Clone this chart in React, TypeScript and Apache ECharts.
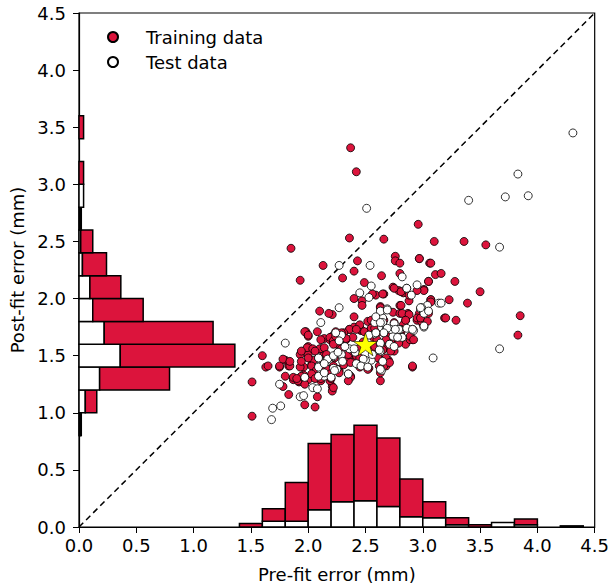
import React, { useEffect, useRef } from "react";
import * as echarts from "echarts";

const trainPoints: [number, number][] = [
  [2.37,3.32],[2.42,3.11],[2.96,2.65],[2.36,2.53],[2.66,2.52],[3.10,2.50],[3.36,2.50],[3.55,2.47],[1.85,2.44],[2.13,2.29],
  [2.43,2.33],[2.76,2.37],[2.76,2.33],[2.80,2.31],[2.97,2.35],[3.06,2.31],[2.40,2.24],[2.64,2.20],[2.80,2.22],[3.11,2.21],
  [3.16,2.22],[1.93,2.16],[2.30,2.18],[2.49,2.14],[3.05,2.15],[3.28,2.15],[2.74,2.10],[2.79,2.07],[3.01,2.08],[3.50,2.06],
  [2.83,2.05],[2.66,2.04],[2.59,2.03],[2.40,2.00],[2.47,1.98],[2.47,1.94],[2.88,1.98],[3.07,1.99],[3.23,1.99],[3.39,1.96],
  [2.10,1.89],[2.21,1.86],[2.63,1.93],[2.80,1.94],[2.74,1.88],[2.80,1.87],[2.87,1.87],[3.05,1.87],[3.19,1.83],[3.29,1.81],
  [2.40,1.84],[2.52,1.80],[2.64,1.82],[2.85,1.81],[2.95,1.81],[3.00,1.78],[3.85,1.85],[3.83,1.68],[2.91,1.40],[2.63,1.28],
  [1.60,1.50],[1.63,1.40],[1.51,1.27],[1.51,0.97],[1.83,1.16],[1.97,1.07],[2.06,1.05],[2.08,1.14],[1.75,1.40],[1.80,1.46],
  [1.83,1.41],[1.78,1.23],[1.80,1.32],[1.87,1.29],[1.96,1.40],[2.00,1.57],[1.98,1.71],[2.00,1.67],[2.08,1.71],[1.93,1.51],
  [2.00,1.51],[1.96,1.33],[2.00,1.29],[1.92,1.27],[1.97,1.25],[2.21,1.23],[2.21,1.19],[2.09,1.38],[2.03,1.42],[2.14,1.52],
  [2.11,1.56],[2.14,1.65],[2.20,1.64],[2.24,1.71],[2.33,1.64],[2.36,1.73],[2.40,1.75],[2.46,1.72],[2.54,1.72],[2.62,1.71],
  [2.72,1.72],[2.83,1.77],[2.85,1.60],[2.91,1.64],[2.71,1.65],[2.75,1.62],[2.66,1.59],[2.73,1.56],[2.62,1.48],[2.70,1.46],
  [2.68,1.41],[2.53,1.39],[2.39,1.46],[2.39,1.66],[2.26,1.53],[2.26,1.60],[2.17,1.47],[2.37,1.32],[2.27,1.37],[2.17,1.38],
  [2.19,1.28],[2.11,1.28],[2.21,1.67],[2.27,1.69],[2.36,1.73],[2.46,1.73],[2.53,1.71],[2.61,1.74],[2.66,1.70],[2.81,1.71],
  [2.89,1.64],[2.72,1.63],[2.75,1.54],[2.68,1.57],[2.61,1.48],[2.69,1.45],[2.66,1.41],[2.63,1.35],[2.45,1.40],[2.52,1.38],
  [2.35,1.48],[2.23,1.48],[2.22,1.41],[2.26,1.38],[2.37,1.31],[2.20,1.30],[2.22,1.22],[2.42,1.50],[2.97,2.35],[3.07,2.31],
  [3.05,2.15],[3.01,2.07],[3.07,1.99],[2.97,1.87],[2.95,1.83],[2.99,1.80],[1.75,1.41],[1.84,1.41],[2.18,1.87],[2.19,1.64],
  [2.22,1.63],[2.00,1.58],[1.93,1.40],[2.05,1.46],[2.31,1.70],[2.57,1.66],[2.48,1.62],[2.44,1.56],[2.56,1.55],[2.31,1.42],
  [2.45,1.77],[2.42,1.73],[2.49,1.71],[2.55,1.74],[1.97,1.71],[2.00,1.68],[2.19,1.66],[2.22,1.63],[2.24,1.67],[2.29,1.70],
  [2.33,1.65],[2.32,1.58],[2.11,1.64],[1.99,1.57],[2.04,1.56],[2.10,1.56],[2.14,1.57],[2.00,1.48],[2.09,1.48],[2.16,1.51],
  [2.29,1.56],[2.35,1.51],[2.39,1.54],[1.78,1.47],[1.84,1.45],[1.94,1.45],[2.03,1.41],[2.07,1.37],[2.11,1.40],[1.87,1.31],
  [1.91,1.28],[1.94,1.32],[2.03,1.34],[2.06,1.30],[2.11,1.30],[2.19,1.34],[2.27,1.35],[2.35,1.28],[2.45,1.48],[2.37,1.44],
  [1.65,1.41],[2.56,2.04],[2.65,2.04],[2.75,2.09],[2.81,2.06],[2.88,2.03],[2.95,2.07],[2.63,1.92],[2.81,1.94],[2.82,1.87],
  [2.88,1.86],[2.85,1.81],[3.07,1.97],[2.98,1.83],[3.04,1.80],[3.20,1.83],[2.55,1.81],[2.66,1.81],[2.75,1.79],[2.81,1.73],
  [2.89,1.67],[2.82,1.66],[2.72,1.67],[2.58,1.74],[2.60,1.64],[2.68,1.64],[2.71,1.60],[2.79,1.61],[2.72,1.54],[2.65,1.55],
  [2.58,1.58],[2.68,1.48],[2.71,1.44],[2.62,1.41],[2.91,1.41],[2.92,1.64],[1.94,1.54],[2.06,1.54],[2.22,1.60],[1.90,1.30],
];

const testPoints: [number, number][] = [
  [2.51,2.79],[3.83,3.09],[3.40,2.86],[3.72,2.89],[3.92,2.90],[4.31,3.45],[3.67,2.45],[2.27,2.29],[2.54,2.29],[2.82,2.19],
  [2.55,2.11],[2.86,2.09],[2.95,2.12],[2.90,2.03],[2.45,2.05],[2.53,2.01],[3.14,1.96],[3.16,1.96],[2.27,1.92],[2.69,1.91],
  [2.64,1.88],[2.98,1.91],[3.01,1.88],[2.11,1.79],[2.65,1.83],[2.91,1.73],[3.01,1.75],[3.67,1.56],[3.09,1.48],[1.69,1.04],
  [1.76,1.06],[1.68,0.94],[1.80,1.61],[1.93,1.14],[1.96,1.15],[1.75,1.25],[2.04,1.22],[2.08,1.21],[2.11,1.35],[2.09,1.41],
  [2.29,1.68],[2.58,1.69],[2.64,1.75],[2.68,1.73],[2.75,1.78],[2.80,1.73],[2.82,1.66],[2.74,1.67],[2.63,1.60],[2.63,1.54],
  [2.64,1.37],[2.55,1.46],[2.50,1.46],[2.44,1.42],[2.41,1.53],[2.36,1.56],[2.29,1.51],[2.32,1.58],[2.22,1.49],[2.30,1.45],
  [2.35,1.34],[2.25,1.38],[2.22,1.39],[2.14,1.32],[2.09,1.48],[2.65,1.79],[2.72,1.73],[2.79,1.73],[2.71,1.60],[2.48,1.47],
  [2.40,1.56],[3.04,1.94],[2.99,1.92],[2.92,1.72],[2.58,1.79],[2.53,1.68],[2.24,1.70],[2.27,1.63],[2.17,1.47],[2.22,1.50],
  [2.26,1.53],[2.09,1.40],[2.14,1.43],[1.97,1.31],[2.09,1.32],[2.14,1.35],[2.20,1.31],[2.23,1.37],[2.35,1.34],[2.42,1.43],
  [2.46,1.41],[2.52,1.40],[2.86,2.09],[2.63,1.89],[2.69,1.90],[3.01,1.87],[3.05,1.89],[2.98,1.92],[3.01,1.76],[2.59,1.84],
  [2.63,1.79],[2.69,1.74],[2.76,1.73],[2.86,1.74],[2.91,1.73],[2.78,1.66],[2.66,1.70],[2.59,1.70],[2.63,1.61],[2.75,1.58],
  [2.62,1.55],[2.56,1.51],[2.65,1.45],[2.63,1.38],
];

const meanPoint: [number, number][] = [[2.5, 1.6]];

const diagonal: [number, number][] = [[0, 0], [4.5, 4.5]];

// Bottom histogram (pre-fit error), bin width 0.2
const binWidth = 0.2;
const xBinStart = [1.4, 1.6, 1.8, 2.0, 2.2, 2.4, 2.6, 2.8, 3.0, 3.2, 3.4, 3.6, 3.8, 4.0, 4.2];
const xHistTest = [0.0, 0.05, 0.05, 0.15, 0.22, 0.23, 0.18, 0.09, 0.08, 0.02, 0.0, 0.04, 0.02, 0.0, 0.01];
const xHistTrain = [0.03, 0.11, 0.34, 0.58, 0.59, 0.66, 0.60, 0.33, 0.14, 0.06, 0.02, 0.0, 0.05, 0.0, 0.0];

// Left histogram (post-fit error)
const yBinStart = [0.8, 1.0, 1.2, 1.4, 1.6, 1.8, 2.0, 2.2, 2.4, 2.6, 2.8, 3.0, 3.2, 3.4];
const yHistTest = [0.01, 0.055, 0.18, 0.36, 0.22, 0.12, 0.095, 0.03, 0.015, 0.01, 0.04, 0.0, 0.0, 0.0];
const yHistTrain = [0.01, 0.10, 0.61, 1.00, 0.95, 0.44, 0.27, 0.21, 0.105, 0.01, 0.0, 0.04, 0.0, 0.04];

const FONT = "DejaVu Sans";
const RED = "#DC143C";
const STAR =
  "path://M0,-10 L2.245,-3.09 L9.511,-3.09 L3.633,1.18 L5.878,8.09 L0,3.82 L-5.878,8.09 L-3.633,1.18 L-9.511,-3.09 L-2.245,-3.09 Z";

export default function App() {
  const ref = useRef<HTMLDivElement>(null);
  useEffect(() => {
    if (!ref.current) return;
    const chart = echarts.init(ref.current, null, { renderer: "svg" });

    const bottomData = xBinStart.map((s, i) => [s, s + binWidth, xHistTest[i], xHistTrain[i]]);
    const leftData = yBinStart.map((s, i) => [s, s + binWidth, yHistTest[i], yHistTrain[i]]);
    const edge = { stroke: "#000", lineWidth: 1.5 };

    const renderBottom = (params: any, api: any) => {
      const x0 = api.value(0), x1 = api.value(1), w = api.value(2), r = api.value(3);
      const a = api.coord([x0, 0]);
      const b = api.coord([x1, w]);
      const c = api.coord([x1, w + r]);
      const children: any[] = [];
      if (w > 0)
        children.push({ type: "rect", shape: { x: a[0], y: b[1], width: b[0] - a[0], height: a[1] - b[1] }, style: { fill: "#fff", ...edge } });
      if (r > 0)
        children.push({ type: "rect", shape: { x: a[0], y: c[1], width: b[0] - a[0], height: b[1] - c[1] }, style: { fill: RED, ...edge } });
      return { type: "group", children };
    };
    const renderLeft = (params: any, api: any) => {
      const y0 = api.value(0), y1 = api.value(1), w = api.value(2), r = api.value(3);
      const a = api.coord([0, y0]);
      const b = api.coord([w, y1]);
      const c = api.coord([w + r, y1]);
      const children: any[] = [];
      if (w > 0)
        children.push({ type: "rect", shape: { x: a[0], y: b[1], width: b[0] - a[0], height: a[1] - b[1] }, style: { fill: "#fff", ...edge } });
      if (r > 0)
        children.push({ type: "rect", shape: { x: b[0], y: b[1], width: c[0] - b[0], height: a[1] - b[1] }, style: { fill: RED, ...edge } });
      return { type: "group", children };
    };

    const axisCommon = {
      type: "value",
      min: 0,
      max: 4.5,
      interval: 0.5,
      nameLocation: "middle",
      nameTextStyle: { fontSize: 18, color: "#000", fontFamily: FONT },
      axisLine: { show: true, onZero: false, lineStyle: { color: "#000", width: 1.2 } },
      axisTick: { show: true, length: 6, lineStyle: { color: "#000", width: 1 } },
      splitLine: { show: false },
    };

    chart.setOption({
      animation: false,
      grid: { left: 79, top: 13, width: 520, height: 520, show: true, borderColor: "#000", borderWidth: 1.2, backgroundColor: "transparent" },
      xAxis: {
        ...axisCommon,
        name: "Pre-fit error (mm)",
        nameGap: 38,
        axisLabel: { fontSize: 18, color: "#000", fontFamily: FONT, margin: 9, formatter: (v: number) => v.toFixed(1) },
      },
      yAxis: {
        ...axisCommon,
        name: "Post-fit error (mm)",
        nameGap: 50,
        axisLabel: { fontSize: 18, color: "#000", fontFamily: FONT, margin: 13, formatter: (v: number) => v.toFixed(1) },
      },
      legend: {
        data: [
          { name: "Training data", icon: "circle" },
          { name: "Test data", icon: "circle" },
        ],
        orient: "vertical",
        left: 102,
        top: 23,
        itemWidth: 10,
        itemHeight: 10,
        itemGap: 7,
        textStyle: { fontSize: 18, color: "#000", fontFamily: FONT, padding: [0, 0, 0, 23] },
      },
      series: [
        {
          type: "line",
          data: diagonal,
          showSymbol: false,
          symbol: "none",
          lineStyle: { color: "#000", width: 1.5, type: [6, 4] },
          z: 1,
        },
        { type: "custom", renderItem: renderBottom, data: bottomData, z: 2 },
        { type: "custom", renderItem: renderLeft, data: leftData, z: 2 },
        {
          type: "scatter",
          name: "Training data",
          data: trainPoints,
          symbol: "circle",
          symbolSize: 8,
          itemStyle: { color: RED, borderColor: "#000", borderWidth: 0.8, opacity: 1 },
          z: 3,
        },
        {
          type: "scatter",
          name: "Test data",
          data: testPoints,
          symbol: "circle",
          symbolSize: 8,
          itemStyle: { color: "#fff", borderColor: "#000", borderWidth: 0.8, opacity: 1 },
          z: 4,
        },
        {
          type: "scatter",
          name: "Mean",
          data: meanPoint,
          symbol: STAR,
          symbolSize: [24, 23],
          itemStyle: { color: "#FFFF00", borderColor: "#000", borderWidth: 0.6, opacity: 1 },
          z: 5,
        },
      ],
    });
    return () => chart.dispose();
  }, []);

  return <div ref={ref} style={{ position: "absolute", left: 0, top: 0, width: 612, height: 588 }} />;
}
